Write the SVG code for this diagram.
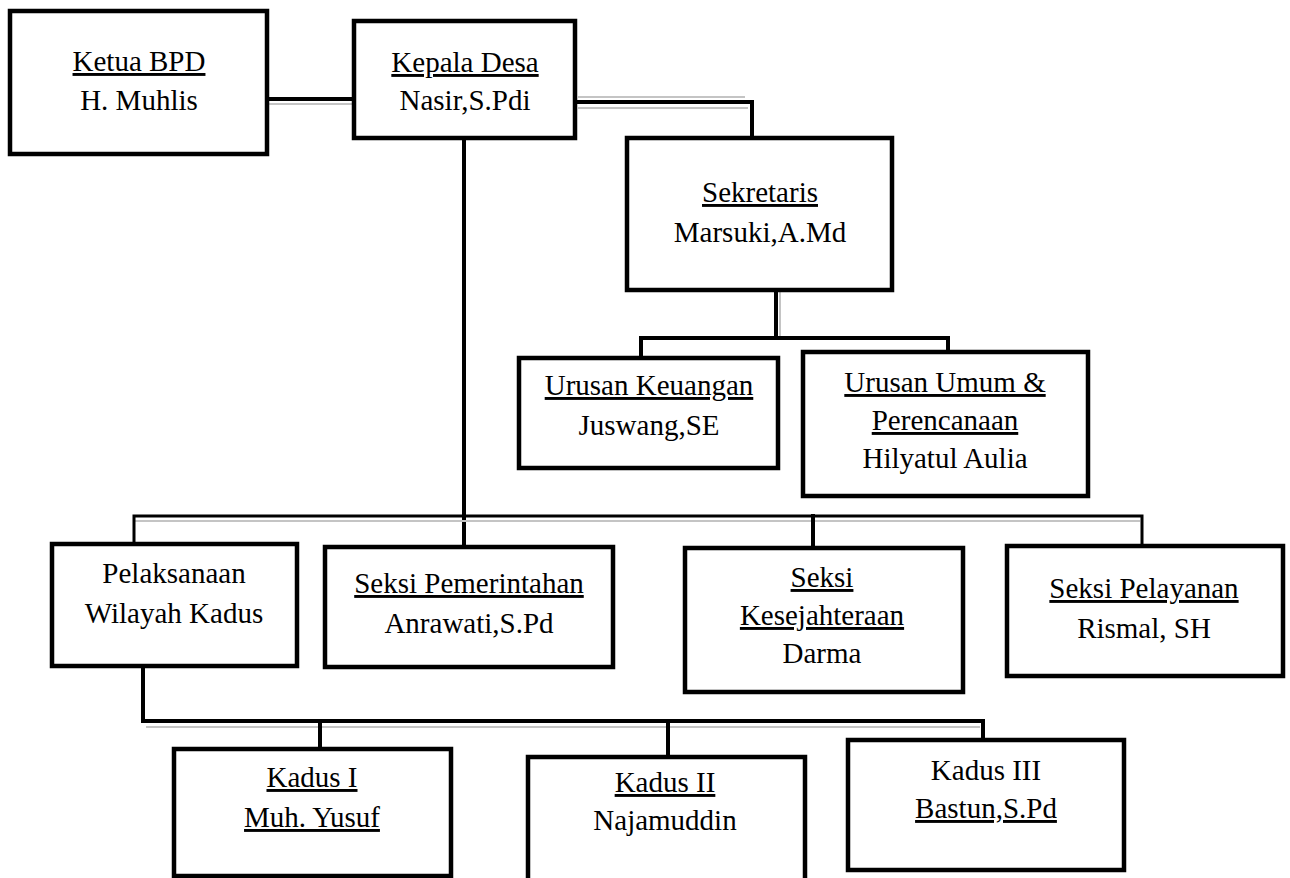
<svg xmlns="http://www.w3.org/2000/svg" width="1290" height="878" viewBox="0 0 1290 878">
<style>
.box{fill:#fff;stroke:#000;stroke-width:4.5}
text{font-family:"Liberation Serif",Tinos,"Times New Roman",Times,"DejaVu Serif",serif;font-size:29px;fill:#000;text-anchor:middle}
.u{text-decoration:underline}
.c{fill:none;stroke:#000;stroke-width:4;stroke-linecap:square}
.g{fill:none;stroke:#c4c4c4;stroke-width:2}
</style>
<rect width="1290" height="878" fill="#fff"/>
<g id="connectors">
  <line class="g" x1="267" y1="104" x2="354" y2="104"/>
  <line class="c" x1="267" y1="99" x2="354" y2="99"/>
  <polyline class="g" points="578,97 745,97"/>
  <polyline class="g" points="578,108 748,108"/>
  <polyline class="c" points="575,102 752,102 752,138"/>
  <line class="c" x1="464" y1="138" x2="464" y2="547"/>
  <line class="g" x1="780" y1="292" x2="780" y2="336"/>
  <line class="c" x1="776" y1="290" x2="776" y2="338"/>
  <polyline class="c" points="641,358 641,338 948,338 948,352"/>
  <line class="g" x1="135" y1="521" x2="1140" y2="521"/>
  <polyline class="c" points="134,544 134,516 1142,516 1142,546" style="stroke-width:3"/>
  <line class="c" x1="813" y1="516" x2="813" y2="548"/>
  <line class="g" x1="146" y1="727" x2="980" y2="727"/>
  <polyline class="c" points="143,668 143,721 983,721 983,740"/>
  <line class="c" x1="320" y1="721" x2="320" y2="749"/>
  <line class="c" x1="668" y1="721" x2="668" y2="757"/>
</g>
<g id="ketua-bpd">
  <rect class="box" x="10" y="11" width="257" height="143"/>
  <text class="u" x="139" y="71">Ketua BPD</text>
  <text x="139" y="110">H. Muhlis</text>
</g>
<g id="kepala-desa">
  <rect class="box" x="354" y="21" width="221" height="117"/>
  <text class="u" x="465" y="72">Kepala Desa</text>
  <text x="465" y="110">Nasir,S.Pdi</text>
</g>
<g id="sekretaris">
  <rect class="box" x="627" y="138" width="265" height="152"/>
  <text class="u" x="760" y="202">Sekretaris</text>
  <text x="760" y="242">Marsuki,A.Md</text>
</g>
<g id="urusan-keuangan">
  <rect class="box" x="519" y="358" width="259" height="110"/>
  <text class="u" x="649" y="395">Urusan Keuangan</text>
  <text x="649" y="435">Juswang,SE</text>
</g>
<g id="urusan-umum">
  <rect class="box" x="803" y="352" width="285" height="144"/>
  <text class="u" x="945" y="392">Urusan Umum &amp;</text>
  <text class="u" x="945" y="430">Perencanaan</text>
  <text x="945" y="468">Hilyatul Aulia</text>
</g>
<g id="pelaksanaan">
  <rect class="box" x="52" y="544" width="245" height="122"/>
  <text x="174" y="583">Pelaksanaan</text>
  <text x="174" y="623">Wilayah Kadus</text>
</g>
<g id="seksi-pemerintahan">
  <rect class="box" x="325" y="547" width="288" height="120"/>
  <text class="u" x="469" y="593">Seksi Pemerintahan</text>
  <text x="469" y="633">Anrawati,S.Pd</text>
</g>
<g id="seksi-kesejahteraan">
  <rect class="box" x="685" y="548" width="278" height="144"/>
  <text class="u" x="822" y="587">Seksi</text>
  <text class="u" x="822" y="625">Kesejahteraan</text>
  <text x="822" y="663">Darma</text>
</g>
<g id="seksi-pelayanan">
  <rect class="box" x="1007" y="546" width="276" height="130"/>
  <text class="u" x="1144" y="598">Seksi Pelayanan</text>
  <text x="1144" y="638">Rismal, SH</text>
</g>
<g id="kadus-1">
  <rect class="box" x="174" y="749" width="277" height="127"/>
  <text class="u" x="312" y="787">Kadus I</text>
  <text class="u" x="312" y="827">Muh. Yusuf</text>
</g>
<g id="kadus-2">
  <rect class="box" x="528" y="757" width="277" height="125"/>
  <text class="u" x="665" y="792">Kadus II</text>
  <text x="665" y="830">Najamuddin</text>
</g>
<g id="kadus-3">
  <rect class="box" x="848" y="740" width="276" height="130"/>
  <text x="986" y="780">Kadus III</text>
  <text class="u" x="986" y="818">Bastun,S.Pd</text>
</g>
</svg>
